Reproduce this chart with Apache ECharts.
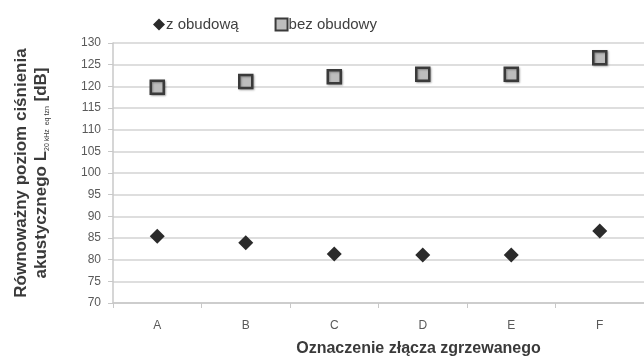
<!DOCTYPE html>
<html><head><meta charset="utf-8">
<script src="https://cdn.jsdelivr.net/npm/echarts@6/dist/echarts.min.js"></script>
<style>html,body{margin:0;padding:0;background:#fff}#c{width:644px;height:362px}</style>
</head><body><div id="c"></div>
<script>
const categories = ['A','B','C','D','E','F'];
const zObudowa = [85.4, 83.9, 81.3, 81.1, 81.1, 86.6];
const bezObudowy = [119.8, 121.1, 122.2, 122.8, 122.8, 126.6];
const yMin = 70, yMax = 130, yStep = 5;
const seriesNames = ['z obudową', 'bez obudowy'];

const chart = echarts.init(document.getElementById('c'));
const FONT = '"Liberation Sans", Arial, sans-serif';
chart.setOption({
  animation: false,
  textStyle: {fontFamily: FONT},
  legend: {
    top: 12, left: 148, itemGap: 36, itemWidth: 12, itemHeight: 12,
    textStyle: {fontSize: 15, color: '#404040', fontFamily: FONT, padding: [0,0,0,-4]},
    data: [
      {name: seriesNames[0], icon: 'diamond', itemStyle: {color: '#2b2b2b'}},
      {name: seriesNames[1], icon: 'rect', itemStyle: {color: '#bdbdbd', borderColor: '#3a3a3a', borderWidth: 2}}
    ]
  },
  grid: {left: 113, right: -3, top: 43, bottom: 56, containLabel: false},
  xAxis: {
    type: 'category', data: categories, boundaryGap: true,
    axisLine: {lineStyle: {color: '#c8c8c8', width: 1.5}},
    axisTick: {show: true, length: 5, lineStyle: {color: '#c8c8c8'}},
    axisLabel: {fontSize: 12, color: '#595959', margin: 17},
    name: 'Oznaczenie złącza zgrzewanego', nameLocation: 'middle', nameGap: 38,
    nameTextStyle: {fontSize: 16, fontWeight: 'bold', color: '#3a3a3a', padding: [0,0,0,80]}
  },
  yAxis: {
    type: 'value', min: yMin, max: yMax, interval: yStep,
    axisLine: {show: true, lineStyle: {color: '#c8c8c8', width: 1.5}},
    axisTick: {show: true, length: 5, lineStyle: {color: '#c8c8c8'}},
    splitLine: {lineStyle: {color: '#dedede', width: 2}},
    axisLabel: {fontSize: 12, color: '#595959', margin: 12},
    name: '{a|Równoważny poziom ciśnienia}\n{a|akustycznego L}{s|20 kHz  eq tzn}{a| [dB]}',
    nameLocation: 'middle', nameRotate: 90, nameGap: 62,
    nameTextStyle: {
      color: '#3a3a3a', align: 'center',
      rich: {
        a: {fontSize: 17, fontWeight: 'bold', color: '#3a3a3a', lineHeight: 20, fontFamily: FONT},
        s: {fontSize: 7, color: '#3a3a3a', verticalAlign: 'bottom', lineHeight: 20, fontFamily: FONT}
      }
    }
  },
  series: [
    {name: seriesNames[0], type: 'scatter', data: zObudowa, symbol: 'diamond', symbolSize: [15, 15],
     itemStyle: {color: '#2b2b2b', opacity: 1}},
    {name: seriesNames[1], type: 'scatter', data: bezObudowy, symbol: 'rect', symbolSize: 13,
     itemStyle: {color: '#bdbdbd', borderColor: '#3a3a3a', borderWidth: 2.5, opacity: 1,
       shadowBlur: 2, shadowColor: 'rgba(0,0,0,0.3)', shadowOffsetX: 1, shadowOffsetY: 1}}
  ]
});
</script></body></html>
